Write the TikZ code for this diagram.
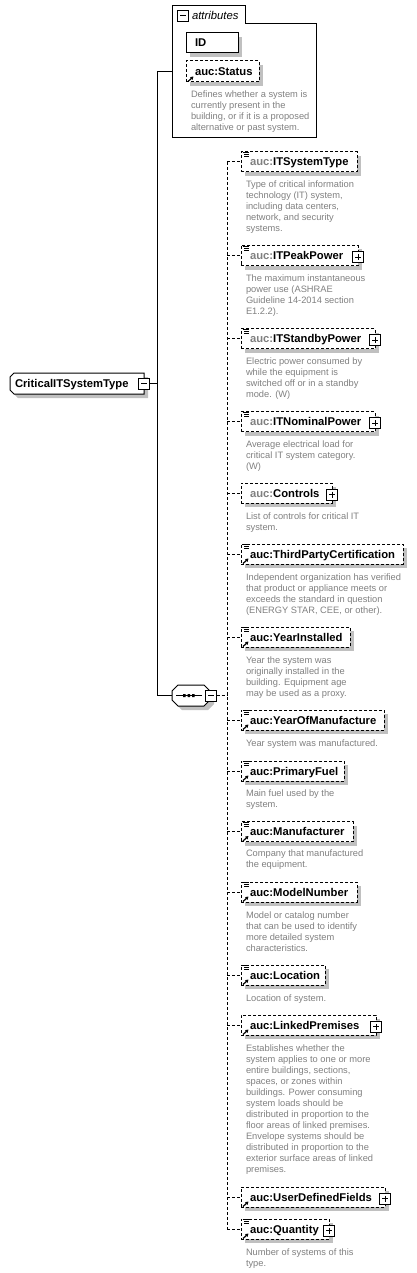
\documentclass[tikz,border=0pt]{standalone}
\usepackage{fontspec}
\setmainfont{Liberation Sans}
\usetikzlibrary{shadows,arrows.meta}
\definecolor{descc}{RGB}{128,128,128}
\definecolor{prefc}{RGB}{128,128,128}
\definecolor{shadowc}{RGB}{192,192,192}
\tikzset{
 every node/.style={inner sep=0pt, outer sep=0pt},
 ln/.style={line width=1pt, draw=black},
 dl/.style={line width=1pt, dash pattern=on 3pt off 2pt},
 shad/.style={general shadow={fill=shadowc, shadow xshift=4pt, shadow yshift=-4pt}},
 elem/.style={rectangle, draw, line width=1pt, dash pattern=on 3pt off 2pt, fill=white, anchor=north west, shad},
 selem/.style={rectangle, draw, line width=1pt, fill=white, anchor=north west, shad},
 lbl/.style={font=\bfseries\fontsize{11.25}{13}\selectfont, anchor=base west},
 desc/.style={font=\fontsize{9.3}{11}\selectfont, text=descc, align=left, anchor=north west},
 pmb/.style={rectangle, draw, line width=1pt, fill=white, minimum size=11pt},
 ghost/.style={rectangle, anchor=north west},
}
\newcommand\xsMinus[3]{\node[pmb] (#1) at (#2,#3) {};
 \draw[line width=1pt] ([xshift=2.5pt]#1.west) -- ([xshift=-2.5pt]#1.east);}
\newcommand\xsPlus[3]{\xsMinus{#1}{#2}{#3}
 \draw[line width=1pt] ([yshift=-2.5pt]#1.north) -- ([yshift=2.5pt]#1.south);}
\newcommand\xsEq[1]{%
 \draw[line width=0.8pt] ([xshift=1.5pt,yshift=-0.5pt]#1.north west) -- ++(6pt,0pt)
   ([xshift=3pt,yshift=-2.5pt]#1.north west) -- ++(4.5pt,0pt)
   ([xshift=3pt,yshift=-4.5pt]#1.north west) -- ++(4.5pt,0pt);}
\newcommand\xsRef[1]{%
 \draw[line width=1.2pt, -{Triangle[length=3pt,width=3.5pt]}] ([xshift=2pt,yshift=0.5pt]#1.south west) -- ([xshift=7.5pt,yshift=5.5pt]#1.south west);}
\newcommand\xsElem[8]{%
 \pgfmathsetmacro\xsW{#3-241}%
 \node[elem, minimum width=\xsW pt, minimum height=20pt] (#1) at (241,#2-10) {};
 \node[lbl] (#1l) at (250,#2+4) {\textcolor{#4}{auc:}#5};
 \ifnum#6=1 \xsEq{#1}\fi
 \ifnum#7=1 \xsRef{#1}\fi
 \ifnum#8=1 \xsPlus{#1p}{#3}{#2+1.5}\fi
 \draw[dl] (tk|-#1.west) -- (#1.west);
}
\begin{document}
\begin{tikzpicture}[x=1pt,y=-1pt]
\useasboundingbox (0,0) rectangle (417,1273);
% attributes
\node[ghost, minimum width=144pt, minimum height=132.5pt] (attr) at (172,5.5) {};
\draw[ln] (172,5.5) -- (245,5.5) -- (245,24) -- (316,24) -- (316,138) -- (172,138) -- cycle;
\xsMinus{aminus}{183}{16}
\node[font=\itshape\fontsize{11.3}{13}\selectfont, anchor=base west] (attrl) at (192,19.5) {attributes};
\node[selem, minimum width=52pt, minimum height=20pt] (id) at (186,33) {};
\node[lbl] (idl) at (195,47) {ID};
\node[elem, minimum width=73pt, minimum height=21pt] (status) at (186,61) {};
\node[lbl] (statusl) at (195,75.5) {auc:Status};
\xsRef{status}
\node[desc] (statusd) at (191,94-4.2) {\strut Defines whether a system is\\currently present in the\\building, or if it is a proposed\\alternative or past system.};
% main
\node[ghost, minimum width=134pt, minimum height=21pt] (main) at (10,373) {};
\draw[ln, fill=white, shad] (14,373) -- (144,373) -- (144,394) -- (14,394) -- (10,390) -- (10,377) -- cycle;
\node[lbl] (mainl) at (15,387.5) {CriticalITSystemType};
\xsMinus{mminus}{144}{383.5}
% sequence
\node[ghost, minimum width=38pt, minimum height=21pt] (seq) at (172,685) {};
\draw[ln, fill=white, shad] (178,685) -- (204,685) -- (210,691) -- (210,700) -- (204,706) -- (178,706) -- (172,700) -- (172,691) -- cycle;
\draw[line width=1pt] (176,695.5) -- (202,695.5);
\fill (183,694) rectangle (185.5,697) (187.5,694) rectangle (190,697) (192,694) rectangle (194.5,697);
\xsMinus{sminus}{211}{695.5}
% spine
\coordinate (spm) at (157,383.5);
\coordinate (sp1) at (157,72);
\coordinate (sp2) at (157,695.5);
\coordinate (atin) at (172,72);
\draw[ln] (mminus.east) -- (spm);
\draw[ln] (atin) -- (sp1) -- (sp2) -- (seq.west);
\coordinate (tk) at (227,695.5);
\draw[dl] (sminus.east) -- (tk);
% children
\xsElem{c1}{162}{357}{prefc}{ITSystemType}{1}{0}{0}
\node[desc] (d1) at (246,184-4.2) {\strut Type of critical information\\technology (IT) system,\\including data centers,\\network, and security\\systems.};
\xsElem{c2}{255.5}{358}{prefc}{ITPeakPower}{1}{0}{1}
\node[desc] (d2) at (246,278-4.2) {\strut The maximum instantaneous\\power use (ASHRAE\\Guideline 14-2014 section\\E1.2.2).};
\xsElem{c3}{338.5}{375}{prefc}{ITStandbyPower}{1}{0}{1}
\node[desc] (d3) at (246,361-4.2) {\strut Electric power consumed by\\while the equipment is\\switched off or in a standby\\mode. (W)};
\xsElem{c4}{421.5}{375}{prefc}{ITNominalPower}{1}{0}{1}
\node[desc] (d4) at (246,444-4.2) {\strut Average electrical load for\\critical IT system category.\\(W)};
\xsElem{c5}{493}{332}{prefc}{Controls}{0}{0}{1}
\node[desc] (d5) at (246,516-4.2) {\strut List of controls for critical IT\\system.};
\xsElem{c6}{554}{403}{black}{ThirdPartyCertification}{1}{1}{0}
\node[desc] (d6) at (246,577-4.2) {\strut Independent organization has verified\\that product or appliance meets or\\exceeds the standard in question\\(ENERGY STAR, CEE, or other).};
\xsElem{c7}{637}{350}{black}{YearInstalled}{1}{1}{0}
\node[desc] (d7) at (246,660-4.2) {\strut Year the system was\\originally installed in the\\building. Equipment age\\may be used as a proxy.};
\xsElem{c8}{720}{384}{black}{YearOfManufacture}{1}{1}{0}
\node[desc] (d8) at (246,743-4.2) {\strut Year system was manufactured.};
\xsElem{c9}{771}{344}{black}{PrimaryFuel}{1}{1}{0}
\node[desc] (d9) at (246,793-4.2) {\strut Main fuel used by the\\system.};
\xsElem{c10}{831.5}{353}{black}{Manufacturer}{1}{1}{0}
\node[desc] (d10) at (246,853-4.2) {\strut Company that manufactured\\the equipment.};
\xsElem{c11}{892}{357}{black}{ModelNumber}{1}{1}{0}
\node[desc] (d11) at (246,915-4.2) {\strut Model or catalog number\\that can be used to identify\\more detailed system\\characteristics.};
\xsElem{c12}{975}{325}{black}{Location}{1}{1}{0}
\node[desc] (d12) at (246,998-4.2) {\strut Location of system.};
\xsElem{c13}{1025}{376}{black}{LinkedPremises}{0}{1}{1}
\node[desc] (d13) at (246,1048-4.2) {\strut Establishes whether the\\system applies to one or more\\entire buildings, sections,\\spaces, or zones within\\buildings. Power consuming\\system loads should be\\distributed in proportion to the\\floor areas of linked premises.\\Envelope systems should be\\distributed in proportion to the\\exterior surface areas of linked\\premises.};
\xsElem{c14}{1197}{385}{black}{UserDefinedFields}{0}{1}{1}
\xsElem{c15}{1229}{329}{black}{Quantity}{1}{1}{1}
\node[desc] (d15) at (246,1252-4.2) {\strut Number of systems of this\\type.};
\draw[dl] (tk|-c1.west) -- (tk|-c15.west);
\end{tikzpicture}
\end{document}
